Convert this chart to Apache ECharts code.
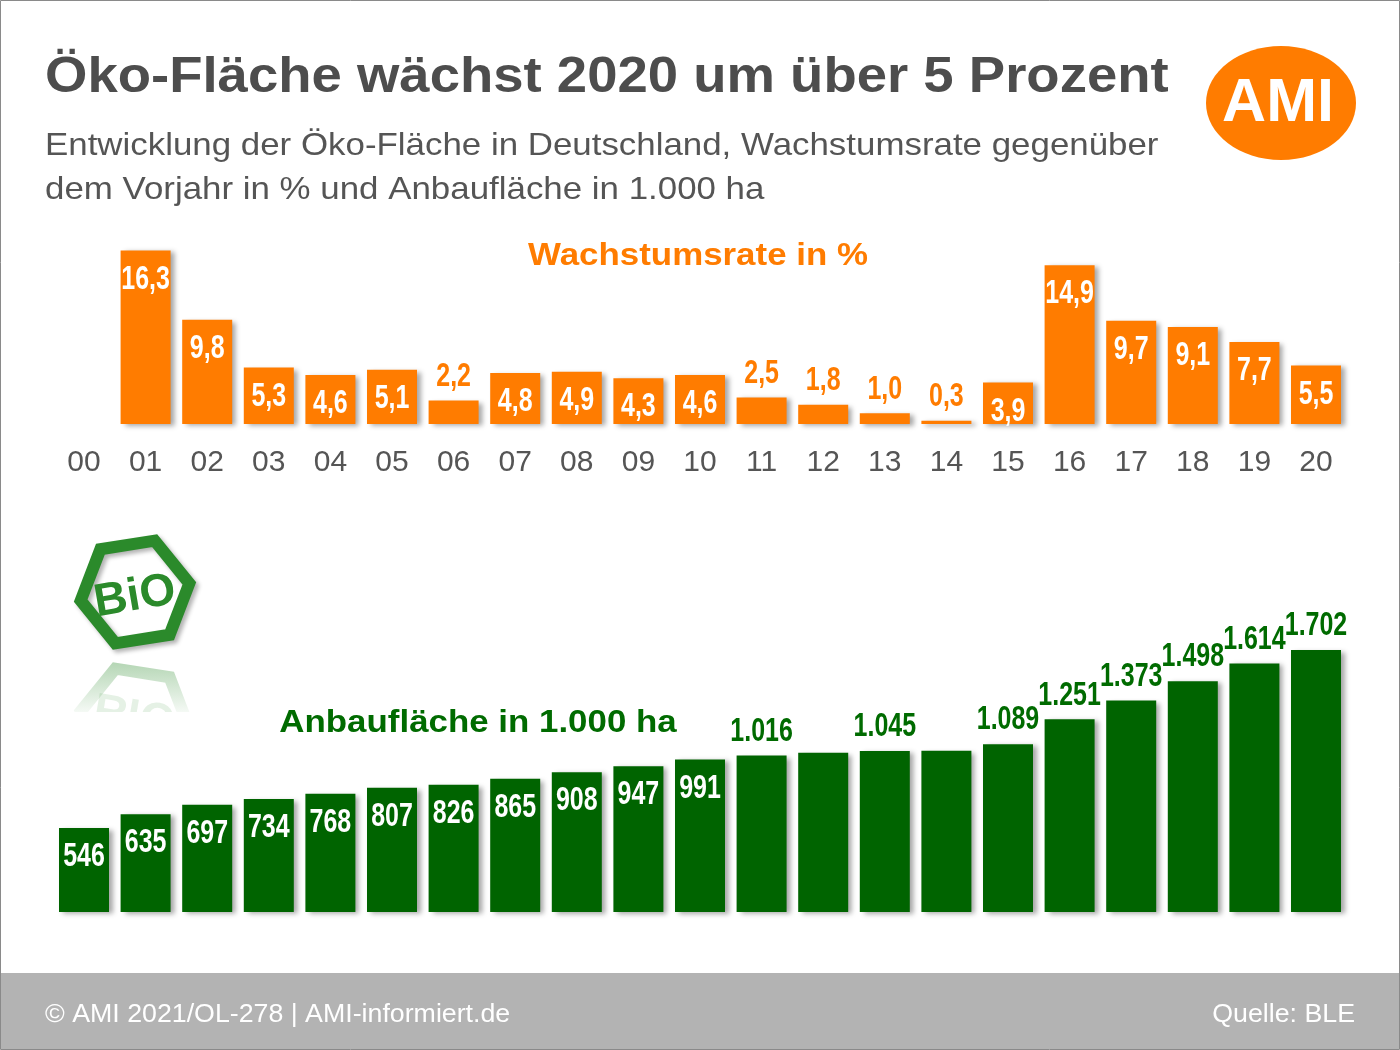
<!DOCTYPE html>
<html lang="de">
<head>
<meta charset="UTF-8">
<title>Öko-Fläche 2020</title>
<script src="https://cdn.jsdelivr.net/npm/echarts@6/dist/echarts.min.js"></script>
<style>
    html, body { margin: 0; padding: 0; background: #fff; }
    #chart { width: 1400px; height: 1050px; }
</style>
</head>
<body>
<div id="chart"></div>
<script>
    // Jahre 2000-2020 (Kurzform)
    var years = ['00','01','02','03','04','05','06','07','08','09','10',
                 '11','12','13','14','15','16','17','18','19','20'];
    // Wachstumsrate gegenüber Vorjahr in %
    var growthRate = [null, 16.3, 9.8, 5.3, 4.6, 5.1, 2.2, 4.8, 4.9, 4.3, 4.6,
                      2.5, 1.8, 1.0, 0.3, 3.9, 14.9, 9.7, 9.1, 7.7, 5.5];
    // Anbaufläche in 1.000 ha (12 und 14 ohne Beschriftung, Werte geschätzt)
    var areaHa = [546, 635, 697, 734, 768, 807, 826, 865, 908, 947, 991,
                  1016, 1034, 1045, 1047, 1089, 1251, 1373, 1498, 1614, 1702];
    var unlabeledYears = ['12', '14'];

    var orange = '#ff7c00';
    var green = '#006400';
    var labelGreen = '#006b00';
    var logoGreen = '#2b8a2b';
    var sans = '"Liberation Sans", Arial, sans-serif';
    var stretch = 1.09;     // Texte der Vorlage sind horizontal gedehnt
    var narrowScale = 0.78; // Liberation Sans Bold -> wirkt wie Arial Narrow

    var barShadow = {
        shadowBlur: 5,
        shadowOffsetX: 4,
        shadowOffsetY: 2,
        shadowColor: 'rgba(0,0,0,0.35)'
    };

    function fmtRate(v) {
        return v.toFixed(1).replace('.', ',');
    }
    function fmtArea(v) {
        var s = String(v);
        return s.length > 3 ? s.slice(0, s.length - 3) + '.' + s.slice(-3) : s;
    }

    var rateBars = growthRate.map(function (v) { return v === null ? '-' : v; });
    var rateLabels = [];
    growthRate.forEach(function (v, i) {
        if (v !== null) rateLabels.push([i, v]);
    });
    var areaLabels = [];
    areaHa.forEach(function (v, i) {
        if (unlabeledYears.indexOf(years[i]) < 0) areaLabels.push([i, v]);
    });

    // Beschriftung: entweder weiss im Balken oder farbig darueber
    function labelRenderer(isInside, color, fmt) {
        return function (params, api) {
            var v = api.value(1);
            var pt = api.coord([api.value(0), v]);
            var inside = isInside(v);
            return {
                type: 'text',
                x: pt[0],
                y: inside ? pt[1] + 29 : pt[1] - 24,
                scaleX: narrowScale,
                scaleY: 1.04,
                style: {
                    text: fmt(v),
                    fill: inside ? '#fff' : color,
                    font: 'bold 32px ' + sans,
                    align: 'center',
                    verticalAlign: 'middle'
                }
            };
        };
    }

    // Sechseck fuer das Bio-Siegel
    function hexPoints(cx, cy, r, startDeg, flipY) {
        var pts = [];
        for (var k = 0; k < 6; k++) {
            var a = (startDeg + k * 60) * Math.PI / 180;
            var x = cx + r * Math.cos(a);
            var y = cy + r * Math.sin(a);
            if (flipY !== undefined) y = 2 * flipY - y;
            pts.push([x, y]);
        }
        return pts;
    }

    var myChart = echarts.init(document.getElementById('chart'));

    var option = {
        animation: false,
        backgroundColor: '#fff',
        grid: [
            { left: 53.2, right: 53.2, top: 211, bottom: 626 },
            { left: 53.2, right: 53.2, top: 604, bottom: 138 }
        ],
        xAxis: [
            {
                gridIndex: 0,
                type: 'category',
                data: years,
                axisLine: { show: false },
                axisTick: { show: false },
                axisLabel: {
                    color: '#555',
                    fontFamily: sans,
                    fontSize: 30,
                    margin: 24
                }
            },
            {
                gridIndex: 1,
                type: 'category',
                data: years,
                axisLine: { show: false },
                axisTick: { show: false },
                axisLabel: { show: false }
            }
        ],
        yAxis: [
            { gridIndex: 0, type: 'value', min: 0, max: 20, show: false },
            { gridIndex: 1, type: 'value', min: 0, max: 2000, show: false }
        ],
        series: [
            {
                name: 'Wachstumsrate in %',
                type: 'bar',
                xAxisIndex: 0,
                yAxisIndex: 0,
                barWidth: 50,
                itemStyle: Object.assign({ color: orange }, barShadow),
                data: rateBars
            },
            {
                type: 'custom',
                xAxisIndex: 0,
                yAxisIndex: 0,
                silent: true,
                z: 5,
                renderItem: labelRenderer(function (v) { return v >= 3; }, orange, fmtRate),
                data: rateLabels
            },
            {
                name: 'Anbaufläche in 1.000 ha',
                type: 'bar',
                xAxisIndex: 1,
                yAxisIndex: 1,
                barWidth: 50,
                itemStyle: Object.assign({ color: green }, barShadow),
                data: areaHa
            },
            {
                type: 'custom',
                xAxisIndex: 1,
                yAxisIndex: 1,
                silent: true,
                z: 5,
                renderItem: labelRenderer(function (v) { return v < 1000; }, labelGreen, fmtArea),
                data: areaLabels
            }
        ],
        graphic: [
            // Rahmen
            {
                type: 'rect', z: 0, silent: true,
                shape: { x: 0.5, y: 0.5, width: 1399, height: 1049 },
                style: { fill: 'none', stroke: '#8a8a8a', lineWidth: 1 }
            },
            // Titel
            {
                type: 'text', x: 45, y: 78, scaleX: stretch,
                style: {
                    text: 'Öko-Fläche wächst 2020 um über 5 Prozent',
                    fill: '#4d4d4d',
                    font: 'bold 50px ' + sans,
                    verticalAlign: 'middle'
                }
            },
            {
                type: 'text', x: 45, y: 146, scaleX: stretch,
                style: {
                    text: 'Entwicklung der Öko-Fläche in Deutschland, Wachstumsrate gegenüber',
                    fill: '#555',
                    font: '32px ' + sans,
                    verticalAlign: 'middle'
                }
            },
            {
                type: 'text', x: 45, y: 190, scaleX: stretch,
                style: {
                    text: 'dem Vorjahr in % und Anbaufläche in 1.000 ha',
                    fill: '#555',
                    font: '32px ' + sans,
                    verticalAlign: 'middle'
                }
            },
            // Überschriften der Teildiagramme
            {
                type: 'text', x: 698, y: 256, scaleX: stretch,
                style: {
                    text: 'Wachstumsrate in %',
                    fill: orange,
                    font: 'bold 32px ' + sans,
                    align: 'center', verticalAlign: 'middle'
                }
            },
            {
                type: 'text', x: 478, y: 723, scaleX: stretch,
                style: {
                    text: 'Anbaufläche in 1.000 ha',
                    fill: labelGreen,
                    font: 'bold 32px ' + sans,
                    align: 'center', verticalAlign: 'middle'
                }
            },
            // AMI-Logo
            {
                type: 'ellipse',
                shape: { cx: 1281, cy: 103, rx: 75, ry: 57 },
                style: { fill: orange }
            },
            {
                type: 'text', x: 1278, y: 104,
                style: {
                    text: 'AMI', fill: '#fff',
                    font: 'bold 61px ' + sans,
                    align: 'center', verticalAlign: 'middle'
                }
            },
            // Bio-Siegel
            {
                type: 'polygon',
                shape: { points: hexPoints(135, 592, 55, 171) },
                style: {
                    fill: 'none', stroke: logoGreen, lineWidth: 12, lineJoin: 'miter',
                    shadowBlur: 4, shadowOffsetX: 3, shadowOffsetY: 3,
                    shadowColor: 'rgba(0,0,0,0.3)'
                }
            },
            {
                type: 'text', x: 135, y: 597, rotation: 0.17,
                style: {
                    text: 'BiO', fill: logoGreen,
                    font: 'bold 46px ' + sans,
                    align: 'center', verticalAlign: 'middle'
                }
            },
            // Spiegelung
            {
                type: 'polygon',
                shape: { points: hexPoints(135, 592, 55, 171, 656) },
                style: {
                    fill: 'none', lineWidth: 12,
                    stroke: new echarts.graphic.LinearGradient(0, 0, 0, 1, [
                        { offset: 0, color: 'rgba(43,138,43,0.35)' },
                        { offset: 0.5, color: 'rgba(43,138,43,0)' }
                    ])
                }
            },
            {
                type: 'text', x: 135, y: 712, scaleY: -1, rotation: -0.17,
                style: {
                    text: 'BiO', font: 'bold 46px ' + sans,
                    fill: 'rgba(43,138,43,0.12)',
                    align: 'center', verticalAlign: 'middle'
                }
            },
            {
                type: 'rect', silent: true,
                shape: { x: 60, y: 712, width: 150, height: 40 },
                style: { fill: '#fff' }
            },
            // Fusszeile
            {
                type: 'rect', silent: true,
                shape: { x: 1, y: 973, width: 1398, height: 76 },
                style: { fill: '#b3b3b3' }
            },
            {
                type: 'text', x: 45, y: 1015, scaleX: 1.07,
                style: {
                    text: '© AMI 2021/OL-278 | AMI-informiert.de', fill: '#fff',
                    font: '25px ' + sans, verticalAlign: 'middle'
                }
            },
            {
                type: 'text', x: 1355, y: 1015, scaleX: 1.07,
                style: {
                    text: 'Quelle: BLE', fill: '#fff',
                    font: '25px ' + sans, align: 'right', verticalAlign: 'middle'
                }
            }
        ]
    };

    myChart.setOption(option);
</script>
</body>
</html>
